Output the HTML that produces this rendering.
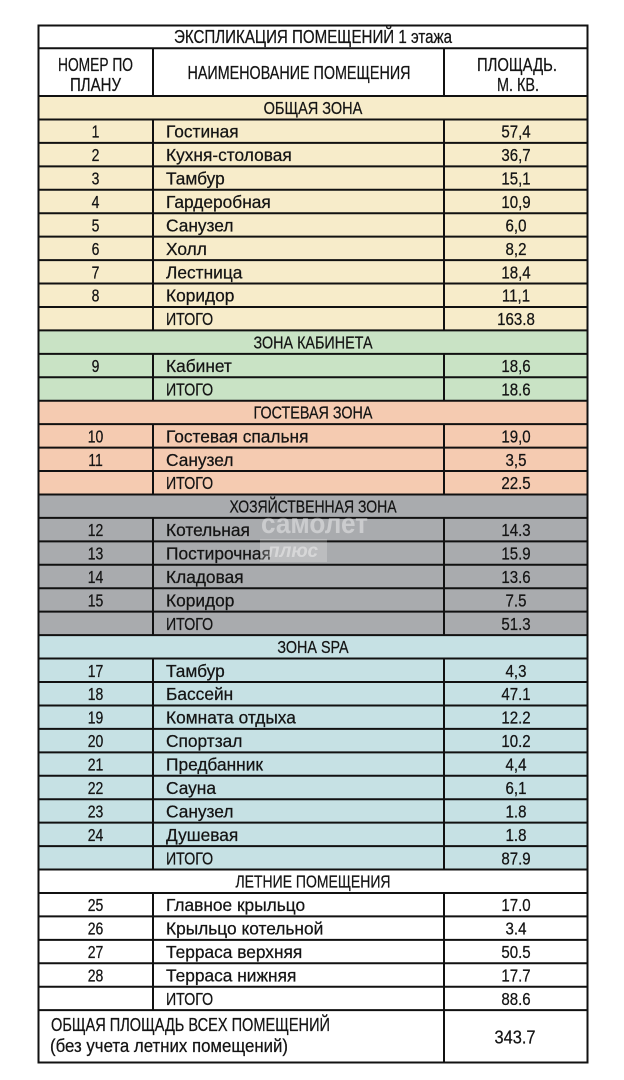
<!DOCTYPE html>
<html><head><meta charset="utf-8"><style>
html,body{margin:0;padding:0;background:#fff;width:624px;height:1080px;overflow:hidden}
svg{display:block}
text{font-family:"Liberation Sans","DejaVu Sans",sans-serif;fill:#141414;stroke:#141414;stroke-width:0.25}
.b{font-size:17.5px}
.h{font-size:18px}
</style></head><body>
<svg width="624" height="1080" viewBox="0 0 624 1080" xmlns="http://www.w3.org/2000/svg">
<rect x="0" y="0" width="624" height="1080" fill="#fff"/>
<!-- zone fills -->
<rect x="38" y="96" width="550" height="234.4" fill="#f7ecca"/>
<rect x="38" y="330.4" width="550" height="70.32" fill="#c9e3c5"/>
<rect x="38" y="400.72" width="550" height="93.76" fill="#f5cbb1"/>
<rect x="38" y="494.48" width="550" height="140.64" fill="#a9abae"/>
<rect x="38" y="635.12" width="550" height="234.4" fill="#c6e1e4"/>

<!-- horizontal lines -->
<g stroke="#111" stroke-width="2">
<line x1="38" x2="588" y1="25.5" y2="25.5"/>
<line x1="38" x2="588" y1="48.3" y2="48.3"/>
<line x1="38" x2="588" y1="96" y2="96"/>
<line x1="38" x2="588" y1="119.44" y2="119.44"/>
<line x1="38" x2="588" y1="142.88" y2="142.88"/>
<line x1="38" x2="588" y1="166.32" y2="166.32"/>
<line x1="38" x2="588" y1="189.76" y2="189.76"/>
<line x1="38" x2="588" y1="213.2" y2="213.2"/>
<line x1="38" x2="588" y1="236.64" y2="236.64"/>
<line x1="38" x2="588" y1="260.08" y2="260.08"/>
<line x1="38" x2="588" y1="283.52" y2="283.52"/>
<line x1="38" x2="588" y1="306.96" y2="306.96"/>
<line x1="38" x2="588" y1="330.4" y2="330.4"/>
<line x1="38" x2="588" y1="353.84" y2="353.84"/>
<line x1="38" x2="588" y1="377.28" y2="377.28"/>
<line x1="38" x2="588" y1="400.72" y2="400.72"/>
<line x1="38" x2="588" y1="424.16" y2="424.16"/>
<line x1="38" x2="588" y1="447.6" y2="447.6"/>
<line x1="38" x2="588" y1="471.04" y2="471.04"/>
<line x1="38" x2="588" y1="494.48" y2="494.48"/>
<line x1="38" x2="588" y1="517.92" y2="517.92"/>
<line x1="38" x2="588" y1="541.36" y2="541.36"/>
<line x1="38" x2="588" y1="564.8" y2="564.8"/>
<line x1="38" x2="588" y1="588.24" y2="588.24"/>
<line x1="38" x2="588" y1="611.68" y2="611.68"/>
<line x1="38" x2="588" y1="635.12" y2="635.12"/>
<line x1="38" x2="588" y1="658.56" y2="658.56"/>
<line x1="38" x2="588" y1="682" y2="682"/>
<line x1="38" x2="588" y1="705.44" y2="705.44"/>
<line x1="38" x2="588" y1="728.88" y2="728.88"/>
<line x1="38" x2="588" y1="752.32" y2="752.32"/>
<line x1="38" x2="588" y1="775.76" y2="775.76"/>
<line x1="38" x2="588" y1="799.2" y2="799.2"/>
<line x1="38" x2="588" y1="822.64" y2="822.64"/>
<line x1="38" x2="588" y1="846.08" y2="846.08"/>
<line x1="38" x2="588" y1="869.52" y2="869.52"/>
<line x1="38" x2="588" y1="892.96" y2="892.96"/>
<line x1="38" x2="588" y1="916.4" y2="916.4"/>
<line x1="38" x2="588" y1="939.84" y2="939.84"/>
<line x1="38" x2="588" y1="963.28" y2="963.28"/>
<line x1="38" x2="588" y1="986.72" y2="986.72"/>
<line x1="38" x2="588" y1="1010.16" y2="1010.16"/>
<line x1="38" x2="588" y1="1062.5" y2="1062.5"/>
<!-- outer verticals -->
<line x1="38.5" x2="38.5" y1="24.5" y2="1063.5"/>
<line x1="587.5" x2="587.5" y1="24.5" y2="1063.5"/>
<!-- column dividers -->
<line x1="153" x2="153" y1="48" y2="96"/>
<line x1="444" x2="444" y1="48" y2="96"/>
<line x1="153" x2="153" y1="119.44" y2="330.4"/>
<line x1="444" x2="444" y1="119.44" y2="330.4"/>
<line x1="153" x2="153" y1="353.84" y2="400.72"/>
<line x1="444" x2="444" y1="353.84" y2="400.72"/>
<line x1="153" x2="153" y1="424.16" y2="494.48"/>
<line x1="444" x2="444" y1="424.16" y2="494.48"/>
<line x1="153" x2="153" y1="517.92" y2="635.12"/>
<line x1="444" x2="444" y1="517.92" y2="635.12"/>
<line x1="153" x2="153" y1="658.56" y2="869.52"/>
<line x1="444" x2="444" y1="658.56" y2="869.52"/>
<line x1="153" x2="153" y1="892.96" y2="1010.16"/>
<line x1="444" x2="444" y1="892.96" y2="1063"/>
</g>

<!-- title & header -->
<text class="h" x="313" y="43" text-anchor="middle" textLength="278" lengthAdjust="spacingAndGlyphs">ЭКСПЛИКАЦИЯ ПОМЕЩЕНИЙ 1 этажа</text>
<text class="h" x="95.5" y="71" text-anchor="middle" textLength="75" lengthAdjust="spacingAndGlyphs">НОМЕР ПО</text>
<text class="h" x="95.5" y="91" text-anchor="middle" textLength="51" lengthAdjust="spacingAndGlyphs">ПЛАНУ</text>
<text class="h" x="299" y="79" text-anchor="middle" textLength="223" lengthAdjust="spacingAndGlyphs">НАИМЕНОВАНИЕ ПОМЕЩЕНИЯ</text>
<text class="h" x="517" y="71" text-anchor="middle" textLength="80" lengthAdjust="spacingAndGlyphs">ПЛОЩАДЬ.</text>
<text class="h" x="518" y="91" text-anchor="middle" textLength="42" lengthAdjust="spacingAndGlyphs">М. КВ.</text>

<!-- zone headers -->
<g class="b" text-anchor="middle">
<text transform="translate(313,114) scale(0.83,1)">ОБЩАЯ ЗОНА</text>
<text transform="translate(313,348.4) scale(0.82,1)">ЗОНА КАБИНЕТА</text>
<text transform="translate(313,418.7) scale(0.82,1)">ГОСТЕВАЯ ЗОНА</text>
<text transform="translate(313,512.5) scale(0.8,1)">ХОЗЯЙСТВЕННАЯ ЗОНА</text>
<text transform="translate(313,653.1) scale(0.82,1)">ЗОНА SPA</text>
<text transform="translate(313,887.5) scale(0.8,1)">ЛЕТНИЕ ПОМЕЩЕНИЯ</text>
</g>

<!-- numbers column -->
<g class="b" text-anchor="middle">
<text transform="translate(95.5,137.6) scale(0.8,1)">1</text>
<text transform="translate(95.5,161.1) scale(0.8,1)">2</text>
<text transform="translate(95.5,184.5) scale(0.8,1)">3</text>
<text transform="translate(95.5,208) scale(0.8,1)">4</text>
<text transform="translate(95.5,231.4) scale(0.8,1)">5</text>
<text transform="translate(95.5,254.8) scale(0.8,1)">6</text>
<text transform="translate(95.5,278.3) scale(0.8,1)">7</text>
<text transform="translate(95.5,301.7) scale(0.8,1)">8</text>
<text transform="translate(95.5,372) scale(0.8,1)">9</text>
<text transform="translate(95.5,442.4) scale(0.8,1)">10</text>
<text transform="translate(95.5,465.8) scale(0.8,1)">11</text>
<text transform="translate(95.5,536.1) scale(0.8,1)">12</text>
<text transform="translate(95.5,559.6) scale(0.8,1)">13</text>
<text transform="translate(95.5,583) scale(0.8,1)">14</text>
<text transform="translate(95.5,606.4) scale(0.8,1)">15</text>
<text transform="translate(95.5,676.8) scale(0.8,1)">17</text>
<text transform="translate(95.5,700.2) scale(0.8,1)">18</text>
<text transform="translate(95.5,723.6) scale(0.8,1)">19</text>
<text transform="translate(95.5,747.1) scale(0.8,1)">20</text>
<text transform="translate(95.5,770.5) scale(0.8,1)">21</text>
<text transform="translate(95.5,794) scale(0.8,1)">22</text>
<text transform="translate(95.5,817.4) scale(0.8,1)">23</text>
<text transform="translate(95.5,840.8) scale(0.8,1)">24</text>
<text transform="translate(95.5,911.2) scale(0.8,1)">25</text>
<text transform="translate(95.5,934.6) scale(0.8,1)">26</text>
<text transform="translate(95.5,958) scale(0.8,1)">27</text>
<text transform="translate(95.5,981.5) scale(0.8,1)">28</text>
</g>

<!-- names column -->
<g class="b">
<text transform="translate(166,137.6) scale(0.99,1)">Гостиная</text>
<text transform="translate(166,161.1) scale(0.99,1)">Кухня-столовая</text>
<text transform="translate(166,184.5) scale(0.99,1)">Тамбур</text>
<text transform="translate(166,208) scale(0.99,1)">Гардеробная</text>
<text transform="translate(166,231.4) scale(0.99,1)">Санузел</text>
<text transform="translate(166,254.8) scale(0.99,1)">Холл</text>
<text transform="translate(166,278.3) scale(0.99,1)">Лестница</text>
<text transform="translate(166,301.7) scale(0.99,1)">Коридор</text>
<text transform="translate(166,325.2) scale(0.81,1)">ИТОГО</text>
<text transform="translate(166,372) scale(0.99,1)">Кабинет</text>
<text transform="translate(166,395.5) scale(0.81,1)">ИТОГО</text>
<text transform="translate(166,442.4) scale(0.99,1)">Гостевая спальня</text>
<text transform="translate(166,465.8) scale(0.99,1)">Санузел</text>
<text transform="translate(166,489.2) scale(0.81,1)">ИТОГО</text>
<text transform="translate(166,536.1) scale(0.99,1)">Котельная</text>
<text transform="translate(166,559.6) scale(0.99,1)">Постирочная</text>
<text transform="translate(166,583) scale(0.99,1)">Кладовая</text>
<text transform="translate(166,606.4) scale(0.99,1)">Коридор</text>
<text transform="translate(166,629.9) scale(0.81,1)">ИТОГО</text>
<text transform="translate(166,676.8) scale(0.99,1)">Тамбур</text>
<text transform="translate(166,700.2) scale(0.99,1)">Бассейн</text>
<text transform="translate(166,723.6) scale(0.99,1)">Комната отдыха</text>
<text transform="translate(166,747.1) scale(0.99,1)">Спортзал</text>
<text transform="translate(166,770.5) scale(0.99,1)">Предбанник</text>
<text transform="translate(166,794) scale(0.99,1)">Сауна</text>
<text transform="translate(166,817.4) scale(0.99,1)">Санузел</text>
<text transform="translate(166,840.8) scale(0.99,1)">Душевая</text>
<text transform="translate(166,864.3) scale(0.81,1)">ИТОГО</text>
<text transform="translate(166,911.2) scale(0.99,1)">Главное крыльцо</text>
<text transform="translate(166,934.6) scale(0.99,1)">Крыльцо котельной</text>
<text transform="translate(166,958) scale(0.99,1)">Терраса верхняя</text>
<text transform="translate(166,981.5) scale(0.99,1)">Терраса нижняя</text>
<text transform="translate(166,1004.9) scale(0.81,1)">ИТОГО</text>
</g>

<!-- areas column -->
<g class="b" text-anchor="middle">
<text transform="translate(516,137.6) scale(0.86,1)">57,4</text>
<text transform="translate(516,161.1) scale(0.86,1)">36,7</text>
<text transform="translate(516,184.5) scale(0.86,1)">15,1</text>
<text transform="translate(516,208) scale(0.86,1)">10,9</text>
<text transform="translate(516,231.4) scale(0.86,1)">6,0</text>
<text transform="translate(516,254.8) scale(0.86,1)">8,2</text>
<text transform="translate(516,278.3) scale(0.86,1)">18,4</text>
<text transform="translate(516,301.7) scale(0.86,1)">11,1</text>
<text transform="translate(516,325.2) scale(0.86,1)">163.8</text>
<text transform="translate(516,372) scale(0.86,1)">18,6</text>
<text transform="translate(516,395.5) scale(0.86,1)">18.6</text>
<text transform="translate(516,442.4) scale(0.86,1)">19,0</text>
<text transform="translate(516,465.8) scale(0.86,1)">3,5</text>
<text transform="translate(516,489.2) scale(0.86,1)">22.5</text>
<text transform="translate(516,536.1) scale(0.86,1)">14.3</text>
<text transform="translate(516,559.6) scale(0.86,1)">15.9</text>
<text transform="translate(516,583) scale(0.86,1)">13.6</text>
<text transform="translate(516,606.4) scale(0.86,1)">7.5</text>
<text transform="translate(516,629.9) scale(0.86,1)">51.3</text>
<text transform="translate(516,676.8) scale(0.86,1)">4,3</text>
<text transform="translate(516,700.2) scale(0.86,1)">47.1</text>
<text transform="translate(516,723.6) scale(0.86,1)">12.2</text>
<text transform="translate(516,747.1) scale(0.86,1)">10.2</text>
<text transform="translate(516,770.5) scale(0.86,1)">4,4</text>
<text transform="translate(516,794) scale(0.86,1)">6,1</text>
<text transform="translate(516,817.4) scale(0.86,1)">1.8</text>
<text transform="translate(516,840.8) scale(0.86,1)">1.8</text>
<text transform="translate(516,864.3) scale(0.86,1)">87.9</text>
<text transform="translate(516,911.2) scale(0.86,1)">17.0</text>
<text transform="translate(516,934.6) scale(0.86,1)">3.4</text>
<text transform="translate(516,958) scale(0.86,1)">50.5</text>
<text transform="translate(516,981.5) scale(0.86,1)">17.7</text>
<text transform="translate(516,1004.9) scale(0.86,1)">88.6</text>
</g>

<!-- final row -->
<text class="h" x="51" y="1031" textLength="279" lengthAdjust="spacingAndGlyphs">ОБЩАЯ ПЛОЩАДЬ ВСЕХ ПОМЕЩЕНИЙ</text>
<text class="h" x="50" y="1052" textLength="238" lengthAdjust="spacingAndGlyphs">(без учета летних помещений)</text>
<text class="h" x="515" y="1043.5" text-anchor="middle" textLength="41" lengthAdjust="spacingAndGlyphs">343.7</text>

<!-- watermark -->
<rect x="260" y="539" width="67" height="23" fill="#ffffff" fill-opacity="0.22"/>
<text x="261" y="533" style="font-size:29px;font-weight:bold;fill:#ffffff;fill-opacity:0.4;stroke:none" textLength="107" lengthAdjust="spacingAndGlyphs">самолет</text>
<text x="268" y="557" style="font-size:19px;font-weight:bold;font-style:italic;fill:#ffffff;fill-opacity:0.4;stroke:none" textLength="50" lengthAdjust="spacingAndGlyphs">плюс</text>
</svg>
</body></html>
